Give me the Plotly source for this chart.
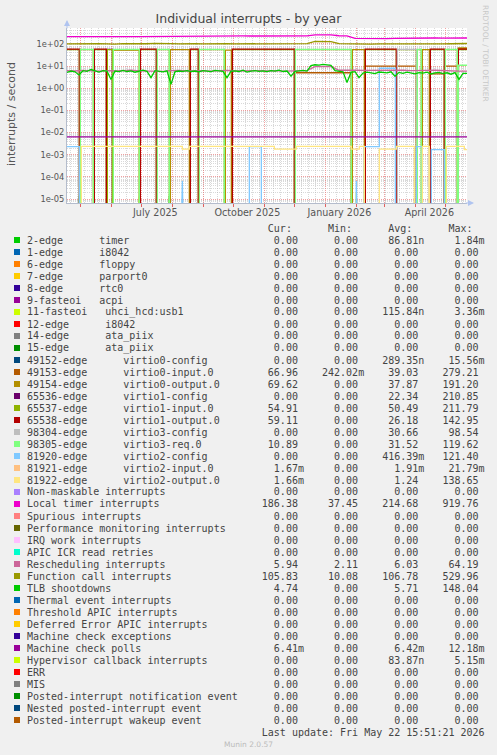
import pandas as pd
import plotly.graph_objects as go

START = "2025-04-17 15:51:21"
END = "2026-05-22 15:51:21"

# ---------------- legend / summary table ----------------
legend_labels = [
    "2-edge      timer", "1-edge      i8042", "6-edge      floppy", "7-edge      parport0",
    "8-edge      rtc0", "9-fasteoi   acpi", "11-fasteoi   uhci_hcd:usb1", "12-edge      i8042",
    "14-edge      ata_piix", "15-edge      ata_piix",
    "49152-edge      virtio0-config", "49153-edge      virtio0-input.0",
    "49154-edge      virtio0-output.0", "65536-edge      virtio1-config",
    "65537-edge      virtio1-input.0", "65538-edge      virtio1-output.0",
    "98304-edge      virtio3-config", "98305-edge      virtio3-req.0",
    "81920-edge      virtio2-config", "81921-edge      virtio2-input.0",
    "81922-edge      virtio2-output.0",
    "Non-maskable interrupts", "Local timer interrupts", "Spurious interrupts",
    "Performance monitoring interrupts", "IRQ work interrupts", "APIC ICR read retries",
    "Rescheduling interrupts", "Function call interrupts", "TLB shootdowns",
    "Thermal event interrupts", "Threshold APIC interrupts", "Deferred Error APIC interrupts",
    "Machine check exceptions", "Machine check polls", "Hypervisor callback interrupts",
    "ERR", "MIS", "Posted-interrupt notification event", "Nested posted-interrupt event",
    "Posted-interrupt wakeup event",
]
legend_colors = [
    "#00CC00", "#0066B3", "#FF8000", "#FFCC00", "#330099", "#990099", "#CCFF00", "#FF0000",
    "#808080", "#008F00", "#00487D", "#B35A00", "#B38F00", "#6B006B", "#8FB300", "#B30000",
    "#BEBEBE", "#80FF80", "#80C9FF", "#FFC080", "#FFE680", "#AA80FF", "#EE00CC", "#FF8080",
    "#666600", "#FFBFFF", "#00FFCC", "#CC6699", "#999900", "#00CC00", "#0066B3", "#FF8000",
    "#FFCC00", "#330099", "#990099", "#CCFF00", "#FF0000", "#808080", "#008F00", "#00487D",
    "#B35A00",
]
Z = "0.00"
cur_vals = [Z, Z, Z, Z, Z, Z, Z, Z, Z, Z, Z, "66.96", "69.62", Z, "54.91", "59.11", Z, "10.89",
            Z, "1.67m", "1.66m", Z, "186.38", Z, Z, Z, Z, "5.94", "105.83", "4.74", Z, Z, Z, Z,
            "6.41m", Z, Z, Z, Z, Z, Z]
min_vals = [Z, Z, Z, Z, Z, Z, Z, Z, Z, Z, Z, "242.02m", Z, Z, Z, Z, Z, Z,
            Z, Z, Z, Z, "37.45", Z, Z, Z, Z, "2.11", "10.08", Z, Z, Z, Z, Z,
            Z, Z, Z, Z, Z, Z, Z]
avg_vals = ["86.81n", Z, Z, Z, Z, Z, "115.84n", Z, Z, Z, "289.35n", "39.03", "37.87", "22.34",
            "50.49", "26.18", "30.66", "31.52", "416.39m", "1.91m", "1.24", Z, "214.68", Z, Z,
            Z, Z, "6.03", "106.78", "5.71", Z, Z, Z, Z, "6.42m", "83.87n", Z, Z, Z, Z, Z]
max_vals = ["1.84m", Z, Z, Z, Z, Z, "3.36m", Z, Z, Z, "15.56m", "279.21", "191.20", "210.85",
            "211.79", "142.95", "98.54", "119.62", "121.40", "21.79m", "138.65", Z, "919.76", Z,
            Z, Z, Z, "64.19", "529.96", "148.04", Z, Z, Z, Z, "12.18m", "5.15m", Z, Z, Z, Z, Z]

# ---------------- time series ----------------
# virtio devices: level per period between restarts (0 = idle)
reboot_dates = ["2025-04-30", "2025-05-14", "2025-05-27", "2025-06-02", "2025-06-29",
                "2025-07-16", "2025-07-29", "2025-08-18", "2025-08-27", "2025-09-22",
                "2025-09-29", "2025-12-01", "2026-01-27", "2026-02-09", "2026-03-13",
                "2026-04-02", "2026-04-07", "2026-04-15", "2026-04-30", "2026-05-13"]
lvl_virtio0_input = [0, 0, 0, 0, 0, 0, 0, 0, 0, 0, 0, 0, 5, 0, 10, 10, 0, 0, 4.5, 10, 62]
lvl_virtio0_output = [0, 0, 0, 0, 53, 0, 0, 55, 0, 0, 53, 0, 0, 55, 0, 0, 0, 55, 0, 0, 66]
lvl_virtio1_config = [0, 0, 0, 57, 0, 0, 0, 0, 0, 0, 0, 0, 0, 0, 0, 0, 0, 0, 0, 0, 0]
lvl_virtio1_input = [55, 55, 55, 55, 55, 55, 55, 0, 55, 55, 0, 55, 55, 0, 55, 55, 55, 0, 55, 55, 55]
lvl_virtio1_output = [58, 0, 58, 0, 0, 58, 0, 0, 58, 0, 0, 58, 0, 0, 58, 0, 0, 0, 58, 0, 59]
lvl_virtio3_config = [0, 0, 0, 0, 0, 0, 0, 0, 0, 0, 0, 0, 0, 0, 0, 57, 0, 0, 0, 0, 0]
lvl_virtio3_req = [0, 57, 0, 0, 57, 0, 57, 0, 0, 57, 0, 0, 57, 0, 0, 0, 57, 0, 0, 57, 10.9]

v2cfg_dates = ["2025-04-17", "2025-04-30", "2025-10-17", "2025-10-29", "2026-02-09",
               "2026-02-24", "2026-03-12", "2026-04-02", "2026-04-08", "2026-04-17", "2026-04-30"]
v2cfg_vals = [2.3e-3, 0, 2.3e-3, 0, 2.3e-3, 8, 0, 2.3e-3, 0, 1.7e-3, 0]
v2cfg_spike_dates = ["2025-08-09", "2025-08-11", "2025-08-13", "2026-01-31", "2026-02-01", "2026-02-03"]
v2cfg_spike_vals = [0, 6.5e-5, 0, 0, 6.5e-5, 0]

v2out_dates = ["2025-04-17", "2025-05-02", "2025-08-11", "2025-08-18", "2025-11-11",
               "2025-12-03", "2026-01-27", "2026-02-04", "2026-02-09", "2026-02-24",
               "2026-03-13", "2026-03-31", "2026-04-08", "2026-04-15", "2026-05-02", "2026-05-20"]
v2out_vals = [0, 2.4e-3, 1.8e-3, 2.4e-3, 1.8e-3, 2.4e-3, 1.8e-3, 2.4e-3, 0, 1.8e-3,
              2.4e-3, 0, 2.4e-3, 0, 2.4e-3, 1.7e-3]

mcp_dates = [START, END]
mcp_vals = [6.4e-3, 6.4e-3]

timer_spike_dates = ["2025-04-29", "2025-04-30", "2025-05-01", "2025-07-28", "2025-07-29", "2025-07-30"]
timer_spike_vals = [0, 1.4e-5, 0, 0, 1.4e-5, 0]
hyper_spike_dates = ["2025-06-28", "2025-06-29", "2025-06-30", "2026-01-31", "2026-02-01", "2026-02-02"]
hyper_spike_vals = [0, 1.3e-5, 0, 0, 2.0e-5, 0]

# sampled every 4 days
tlb_vals = [5.2, 6.0, 5.5, 4.0, 6.2, 5.8, 7.0, 6.1, 5.4, 6.3,
            5.9, 2.5, 6.0, 5.6, 6.4, 5.7, 6.1, 5.3, 6.0, 6.6,
            5.8, 3.0, 6.2, 5.9, 5.5, 6.1, 1.5, 5.6, 6.0, 5.8,
            6.3, 5.7, 6.0, 5.5, 6.2, 5.9, 5.6, 6.4, 6.0, 5.8,
            3.0, 5.9, 6.1, 5.7, 6.5, 5.4, 6.0, 6.3, 5.8, 6.1,
            5.6, 6.2, 5.9, 6.6, 5.7, 6.0, 3.5, 5.8, 6.1, 6.4,
            6.0, 10.5, 11.5, 11.0, 12.0, 11.2, 10.8, 6.2, 5.9, 5.5,
            1.8, 5.2, 5.6, 3.0, 4.8, 5.3, 5.0, 4.6, 5.4, 5.1,
            4.9, 5.5, 3.5, 5.2, 4.7, 5.3, 5.0, 4.5, 5.1, 4.8,
            5.3, 4.4, 4.9, 5.2, 4.6, 5.0, 4.3, 5.1, 2.5, 4.7, 4.7]
# sampled every 8 days
resched_vals = [6.2, 6.0, 6.4, 6.1, 5.9, 6.3, 6.0, 6.2, 6.5, 6.1,
                6.0, 6.3, 5.8, 6.2, 6.4, 6.0, 6.1, 6.3, 5.9, 6.2,
                6.4, 6.0, 6.2, 6.1, 6.3, 6.0, 6.2, 5.9, 6.1, 6.0,
                6.2, 9.5, 10.0, 9.8, 6.5, 6.3, 6.6, 6.4, 6.5, 6.7,
                6.4, 6.6, 6.5, 6.3, 6.6, 6.4, 6.5, 6.2, 6.3, 5.9, 5.9]
fcall_vals = [100, 102, 99, 101, 103, 100, 98, 104, 101, 100,
              102, 106, 101, 103, 100, 105, 102, 101, 104, 100,
              103, 101, 102, 100, 104, 102, 101, 103, 100, 102,
              104, 130, 132, 128, 104, 101, 99, 100, 98, 101,
              100, 99, 102, 100, 98, 101, 99, 100, 102, 105, 105]
ltimer_vals = [212, 214, 213, 215, 212, 214, 213, 214, 213, 212,
               214, 222, 224, 223, 225, 222, 224, 230, 228, 231,
               229, 232, 230, 228, 231, 229, 232, 230, 231, 229,
               233, 258, 260, 256, 235, 232, 178, 175, 172, 176,
               174, 178, 182, 180, 185, 183, 186, 184, 185, 186, 186]

# x tick labels (centred mid-month, like rrdtool)
xlabel_dates = ["2025-07-15", "2025-10-15", "2026-01-15", "2026-04-15"]
xlabel_text = ["July 2025", "October 2025", "January 2026", "April 2026"]
ytick_vals = [1e-5, 1e-4, 1e-3, 1e-2, 1e-1, 1e0, 1e1, 1e2]
ytick_text = ["1e-05", "1e-04", "1e-03", "1e-02", "1e-01", "1e+00", "1e+01", "1e+02"]

# ---------------- build ----------------
FLOOR = 1e-9  # zero shown at the bottom of the log scale
DAY = pd.Timedelta(days=1)


def vis(vals):
    return [v if v > 0 else FLOOR for v in vals]


def epoch_xy(levels):
    xs = [pd.Timestamp(START)]
    ys = [levels[0]]
    for i, r in enumerate(pd.to_datetime(reboot_dates)):
        xs += [r, r + DAY]
        ys += [0, levels[i + 1]]
    xs.append(pd.Timestamp(END))
    ys.append(levels[-1])
    return xs, vis(ys)


traces = []  # (legend row, x, y, shape)
traces.append((0, timer_spike_dates, vis(timer_spike_vals), "linear"))
traces.append((6, hyper_spike_dates, vis(hyper_spike_vals), "linear"))
for row, lv in [(11, lvl_virtio0_input), (12, lvl_virtio0_output), (13, lvl_virtio1_config),
                (14, lvl_virtio1_input), (15, lvl_virtio1_output), (16, lvl_virtio3_config),
                (17, lvl_virtio3_req)]:
    x, y = epoch_xy(lv)
    traces.append((row, x, y, "hv"))
traces.append((18, v2cfg_dates + [END], vis(v2cfg_vals + [v2cfg_vals[-1]]), "hv"))
traces.append((18, v2cfg_spike_dates, vis(v2cfg_spike_vals), "linear"))
traces.append((20, v2out_dates + [END], vis(v2out_vals + [v2out_vals[-1]]), "hv"))
d8 = pd.date_range(START, periods=len(ltimer_vals), freq="8D")
d4 = pd.date_range(START, periods=len(tlb_vals), freq="4D")
traces.append((22, d8, ltimer_vals, "linear"))
traces.append((27, d8, resched_vals, "linear"))
traces.append((28, d8, fcall_vals, "linear"))
traces.append((29, d4, tlb_vals, "linear"))
traces.append((34, mcp_dates, mcp_vals, "linear"))
traces.sort(key=lambda t: t[0])

fig = go.Figure()
for row, x, y, shape in traces:
    fig.add_trace(go.Scatter(x=x, y=y, mode="lines", line=dict(color=legend_colors[row], width=1.3, shape=shape),
                             name=legend_labels[row], showlegend=False, hoverinfo="skip"))
# carrier for the overlay grid axes
fig.add_trace(go.Scatter(x=[], y=[], xaxis="x2", yaxis="y2", showlegend=False))

W, H = 497, 755
L, R, T, B = 67, 467, 28, 203


def px(x):
    return (x - L) / (R - L)


def py(y):
    return (B - y) / (B - T)


minor_y = [m * 10 ** e for e in range(-6, 3) for m in range(2, 10)]
red_grid = "rgba(235,120,120,0.7)"
gray_grid = "rgba(170,170,170,0.45)"
axis_font = dict(family="DejaVu Sans", size=9.6, color="#555555")

fig.update_layout(
    width=W, height=H, margin=dict(l=L, r=W - R, t=T, b=H - B),
    paper_bgcolor="#F0F0F0", plot_bgcolor="#FFFFFF", showlegend=False,
    title=dict(text="Individual interrupts - by year", x=0.5, xref="container", xanchor="center",
               y=1 - 19 / H, yref="container", yanchor="middle",
               font=dict(family="DejaVu Sans", size=12.5, color="#444444")),
    xaxis=dict(type="date", range=[START, END], tickmode="array", tickvals=xlabel_dates,
               ticktext=xlabel_text, ticks="", showgrid=False, zeroline=False, automargin=False,
               showline=True, linecolor="#B4BCCC", linewidth=1, tickfont=axis_font,
               minor=dict(dtick=7 * 86400000, tick0="2025-04-21", showgrid=True,
                          gridcolor=gray_grid, griddash="1px,1px", gridwidth=1, ticks="")),
    yaxis=dict(type="log", range=[-5.18, 2.72], tickmode="array", tickvals=ytick_vals,
               ticktext=ytick_text, ticks="", showgrid=False, zeroline=False, automargin=False,
               showline=True, linecolor="#B4BCCC", linewidth=1,
               tickfont=dict(family="DejaVu Sans", size=8.3, color="#555555"),
               minor=dict(tickmode="array", tickvals=minor_y, showgrid=True, gridcolor=gray_grid,
                          griddash="1px,1px", gridwidth=1, ticks="")),
    xaxis2=dict(type="date", overlaying="x", anchor="y", side="bottom", range=[START, END],
                dtick="M1", tick0="2025-05-01", showgrid=True, gridcolor=red_grid,
                griddash="1px,1px", gridwidth=1, showticklabels=False, ticks="outside",
                ticklen=3, tickcolor="#E06060", zeroline=False),
    yaxis2=dict(type="log", overlaying="y", anchor="x", side="left", range=[-5.18, 2.72],
                tickmode="array", tickvals=ytick_vals, showgrid=True, gridcolor=red_grid,
                griddash="1px,1px", gridwidth=1, showticklabels=False, ticks="", zeroline=False),
)

ann = []
shapes = []
mono = dict(family="DejaVu Sans Mono", size=10, color="#444444")
NB = "\u00a0"


def put(buf, text, last_col):
    num = text.rstrip("numkMG")
    start = last_col - len(num) + 1
    for k, ch in enumerate(text):
        buf[start + k] = ch


def text_ann(s, ypx, xpx=26, font=mono, anchor="left"):
    ann.append(dict(text=s.replace(" ", NB), x=px(xpx), y=py(ypx), xref="paper", yref="paper",
                    xanchor=anchor, yanchor="middle", showarrow=False, font=font, borderpad=0))


header = [" "] * 78
for lab, col in [("Cur:", 43), ("Min:", 53), ("Avg:", 63), ("Max:", 73)]:
    for k, ch in enumerate(lab):
        header[col - len(lab) + 1 + k] = ch
text_ann("".join(header).rstrip(), 228)

for i, lab in enumerate(legend_labels):
    ypx = 240 + 12 * i
    buf = list(lab.ljust(78))
    put(buf, cur_vals[i], 44)
    put(buf, min_vals[i], 54)
    put(buf, avg_vals[i], 64)
    put(buf, max_vals[i], 74)
    text_ann("".join(buf).rstrip(), ypx)
    shapes.append(dict(type="rect", xref="paper", yref="paper", x0=px(14), x1=px(20),
                       y0=py(ypx + 3), y1=py(ypx - 3), fillcolor=legend_colors[i], line=dict(width=0)))

text_ann(" " * 39 + "Last update: Fri May 22 15:51:21 2026", 732)
text_ann("Munin 2.0.57", 744, xpx=248, anchor="center",
         font=dict(family="DejaVu Sans", size=7.5, color="#BBBBBB"))

# y-axis title and rrdtool credit
ann.append(dict(text="interrupts / second", x=px(11), y=py(114), xref="paper", yref="paper",
                textangle=-90, showarrow=False, xanchor="center", yanchor="middle",
                font=dict(family="DejaVu Sans", size=11, color="#555555")))
ann.append(dict(text="RRDTOOL / TOBI OETIKER", x=px(486), y=py(53), xref="paper", yref="paper",
                textangle=90, showarrow=False, xanchor="center", yanchor="middle",
                font=dict(family="DejaVu Sans", size=7.5, color="#C8C8C8")))
# axis arrows
ann.append(dict(text="", x=px(67), y=py(20), xref="paper", yref="paper", ax=0, ay=10,
                showarrow=True, arrowhead=2, arrowsize=1.2, arrowwidth=1, arrowcolor="#B0C4F0"))
ann.append(dict(text="", x=px(474), y=py(203), xref="paper", yref="paper", ax=-10, ay=0,
                showarrow=True, arrowhead=2, arrowsize=1.2, arrowwidth=1, arrowcolor="#B0C4F0"))

fig.update_layout(annotations=ann, shapes=shapes)
fig.write_html("out.html", config={"displayModeBar": False},
               post_script="document.body.style.margin='0px';document.body.style.overflow='hidden';")
